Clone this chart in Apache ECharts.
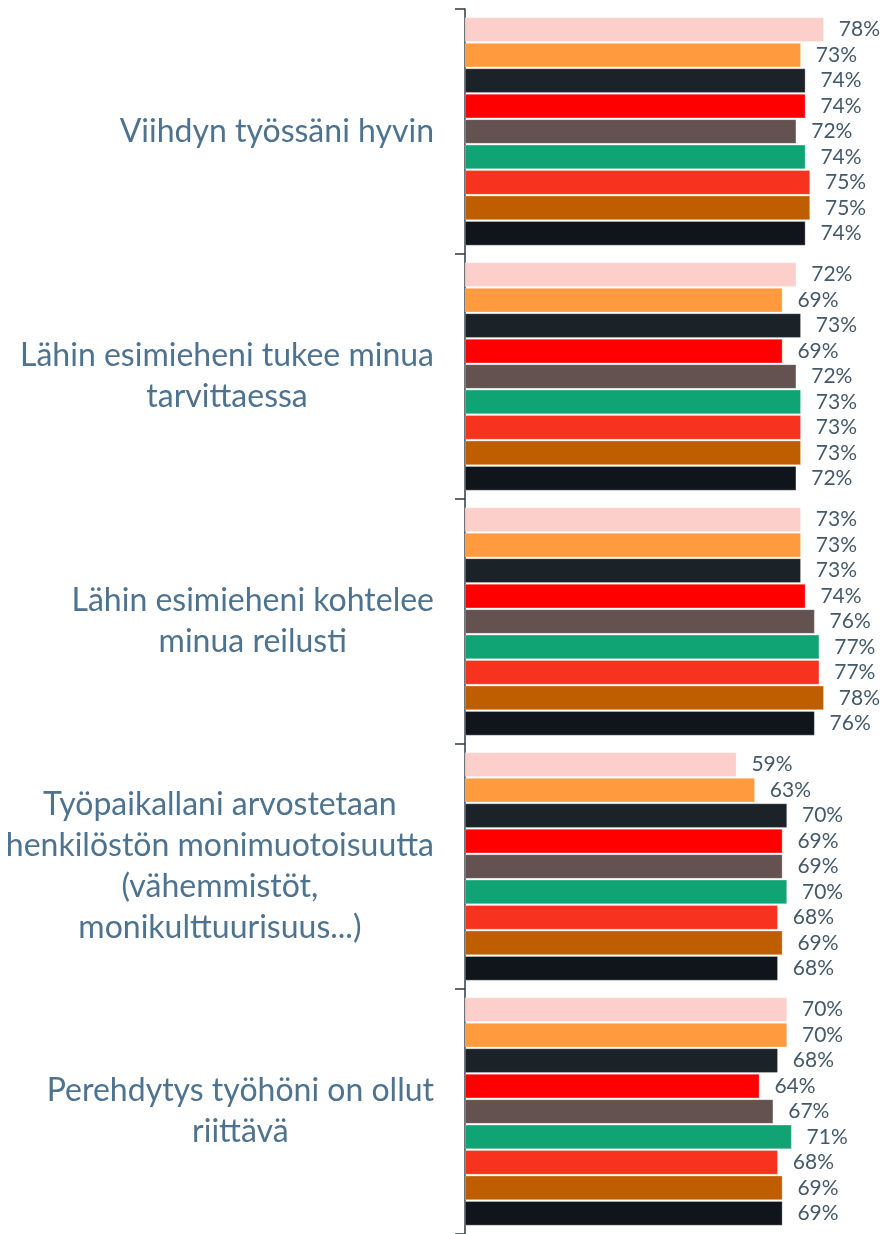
<!DOCTYPE html>
<html>
<head>
<meta charset="utf-8">
<script src="https://cdn.jsdelivr.net/npm/echarts@6/dist/echarts.min.js"></script>
<style>
html,body{margin:0;padding:0;background:#fff;}
#chart{width:881px;height:1234px;}
</style>
</head>
<body>
<div id="chart"></div>
<script>
const categories = [
  'Viihdyn työssäni hyvin',
  'Lähin esimieheni tukee minua\ntarvittaessa',
  'Lähin esimieheni kohtelee\nminua reilusti',
  'Työpaikallani arvostetaan\nhenkilöstön monimuotoisuutta\n(vähemmistöt,\nmonikulttuurisuus...)',
  'Perehdytys työhöni on ollut\nriittävä'
];
const s1 = [78, 72, 73, 59, 70];
const s2 = [73, 69, 73, 63, 70];
const s3 = [74, 73, 73, 70, 68];
const s4 = [74, 69, 74, 69, 64];
const s5 = [72, 72, 76, 69, 67];
const s6 = [74, 73, 77, 70, 71];
const s7 = [75, 73, 77, 68, 68];
const s8 = [75, 73, 78, 69, 69];
const s9 = [74, 72, 76, 68, 69];
const seriesData = [s1, s2, s3, s4, s5, s6, s7, s8, s9];
const colors = ['#FCCFCA', '#FF9B3E', '#1B2329', '#FF0000', '#635250', '#10A374', '#F7321F', '#BF5E00', '#10151B'];

const chart = echarts.init(document.getElementById('chart'), null, {renderer: 'canvas'});
chart.setOption({
  animation: false,
  backgroundColor: '#ffffff',
  grid: {left: 465, top: 9, width: 414, bottom: -5, containLabel: false},
  xAxis: {
    type: 'value', min: 0, max: 90, show: false
  },
  yAxis: {
    type: 'category', inverse: true, data: categories,
    axisLine: {show: true, lineStyle: {color: '#2F3A42', width: 1.5}},
    axisTick: {show: true, length: 10, lineStyle: {color: '#2F3A42', width: 1.5}},
    axisLabel: {
      margin: 31, align: 'right', color: '#4E7390',
      fontFamily: 'Lato', fontSize: 32, lineHeight: 41,
      formatter: v => v.split('\n').map(l => '{c|' + l + '}').join('\n'),
      rich: {c: {align: 'center', fontFamily: 'Lato', fontSize: 32, lineHeight: 41, color: '#4E7390'}}
    }
  },
  series: seriesData.map((d, i) => ({
    type: 'bar', data: d,
    barCategoryGap: '7%', barGap: '5%',
    itemStyle: {color: colors[i], borderColor: 'rgba(255,255,255,0.6)', borderWidth: 0.5},
    label: {
      show: true, position: 'right', distance: 15,
      formatter: p => p.value + '%',
      color: '#44596A', fontFamily: 'Lato', fontSize: 21
    }
  }))
});
</script>
</body>
</html>
